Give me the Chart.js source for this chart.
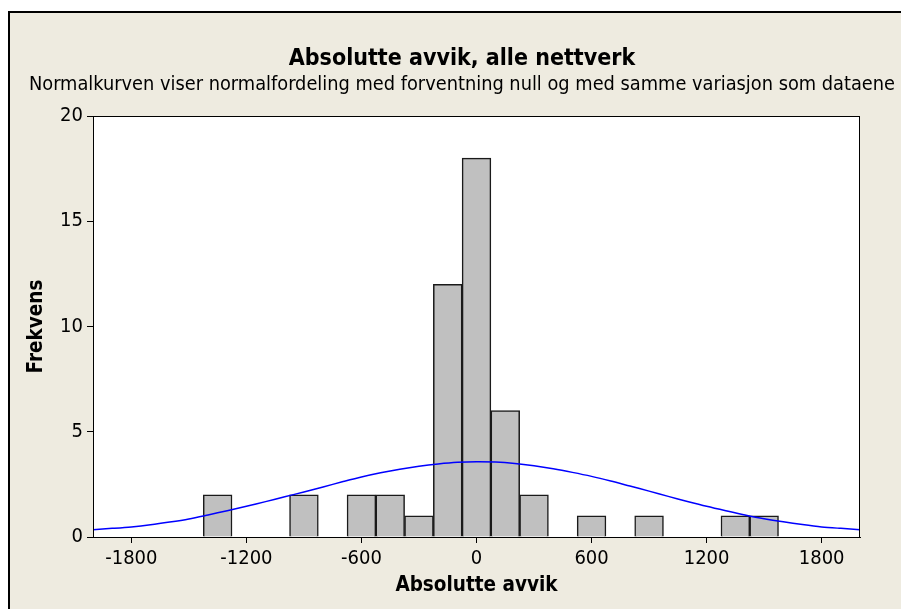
<!DOCTYPE html>
<html>
<head>
<meta charset="utf-8">
<script src="https://cdn.jsdelivr.net/npm/chart.js@4/dist/chart.umd.min.js"></script>
<style>
  html, body { margin: 0; padding: 0; background: #ffffff; }
  #wrap { width: 901px; height: 609px; }
</style>
</head>
<body>
<div id="wrap"><canvas id="histChart" width="901" height="609"></canvas></div>
<script>
// histogram bins (centre of each 150-wide class) and their counts
const binCenters = [-1350, -900, -600, -450, -300, -150, 0, 150, 300, 600, 900, 1350, 1500];
const counts = [2, 2, 2, 2, 1, 12, 18, 6, 2, 1, 1, 1, 1];

// normal curve, read at every 100 along the x axis
const curveX = [-2000, -1900, -1800, -1700, -1600, -1500, -1400, -1300, -1200, -1100, -1000,
                -900, -800, -700, -600, -500, -400, -300, -200, -100, 0,
                100, 200, 300, 400, 500, 600, 700, 800, 900, 1000,
                1100, 1200, 1300, 1400, 1500, 1600, 1700, 1800, 1900, 2000];
const curveY = [0.35, 0.41, 0.48, 0.58, 0.71, 0.86, 1.05, 1.25, 1.46, 1.68, 1.91,
                2.14, 2.38, 2.62, 2.85, 3.05, 3.22, 3.36, 3.47, 3.55, 3.58,
                3.56, 3.49, 3.38, 3.24, 3.07, 2.88, 2.66, 2.42, 2.18, 1.93,
                1.69, 1.46, 1.25, 1.05, 0.87, 0.72, 0.59, 0.48, 0.41, 0.35];

const xTicks = [-1800, -1200, -600, 0, 600, 1200, 1800];
const yTicks = [0, 5, 10, 15, 20];

const titleText = "Absolutte avvik, alle nettverk";
const subtitleText = "Normalkurven viser normalfordeling med forventning null og med samme variasjon som dataene";

const FONT = "'DejaVu Sans Condensed', 'DejaVu Sans', sans-serif";
Chart.defaults.font.family = FONT;
Chart.defaults.color = "#000";

// beige graph panel with a black frame, white data region, titles on top
const panel = {
    id: "panel",
    beforeDraw(chart) {
        const { ctx, chartArea: a } = chart;
        ctx.save();
        ctx.fillStyle = "#ffffff";
        ctx.fillRect(0, 0, chart.width, chart.height);
        ctx.fillStyle = "#eeebe0";
        ctx.fillRect(9, 12, chart.width, chart.height);
        ctx.strokeStyle = "#000";
        ctx.lineWidth = 2;
        ctx.beginPath();
        ctx.moveTo(9, chart.height + 5);
        ctx.lineTo(9, 12);
        ctx.lineTo(chart.width + 5, 12);
        ctx.stroke();
        ctx.fillStyle = "#ffffff";
        ctx.fillRect(a.left, a.top, a.right - a.left, a.bottom - a.top);
        ctx.restore();
    },
    afterDraw(chart) {
        const { ctx, chartArea: a } = chart;
        ctx.save();
        ctx.strokeStyle = "#000";
        ctx.lineWidth = 1;
        ctx.strokeRect(a.left + 0.5, a.top + 0.5, a.right - a.left - 1, a.bottom - a.top);
        ctx.fillStyle = "#000";
        ctx.textAlign = "center";
        ctx.textBaseline = "alphabetic";
        ctx.font = "bold 23px " + FONT;
        ctx.fillText(titleText, 462, 65);
        ctx.font = "19.8px " + FONT;
        ctx.fillText(subtitleText, 462, 90);
        ctx.restore();
    }
};

const ctx = document.getElementById("histChart").getContext("2d");

new Chart(ctx, {
    type: "bar",
    data: {
        datasets: [
            {
                type: "line",
                label: "Normalkurve",
                data: curveX.map((x, i) => ({ x: x, y: curveY[i] })),
                borderColor: "#0000ff",
                borderWidth: 1.5,
                pointRadius: 0,
                tension: 0.3,
                order: 0
            },
            {
                label: "Frekvens",
                data: binCenters.map((x, i) => ({ x: x, y: counts[i] })),
                backgroundColor: "#c0c0c0",
                borderColor: "#1a1a1a",
                borderWidth: 1.5,
                barPercentage: 1,
                categoryPercentage: 1,
                order: 1
            }
        ]
    },
    options: {
        responsive: false,
        animation: false,
        layout: { padding: { top: 116, right: 41, left: 0, bottom: 0 } },
        plugins: {
            legend: { display: false },
            tooltip: { enabled: false }
        },
        scales: {
            x: {
                type: "linear",
                min: -2000,
                max: 2000,
                offset: false,
                afterBuildTicks: s => { s.ticks = xTicks.map(v => ({ value: v })); },
                afterFit: s => { s.height = 72; },
                grid: { offset: false, drawOnChartArea: false, tickLength: 6, color: "#000", lineWidth: 1 },
                border: { color: "#000", width: 1 },
                ticks: {
                    color: "#000",
                    font: { size: 20 },
                    padding: 4,
                    maxRotation: 0,
                    autoSkip: false,
                    callback: v => String(v)
                },
                title: {
                    display: true,
                    text: "Absolutte avvik",
                    color: "#000",
                    font: { size: 20.5, weight: "bold" },
                    padding: { top: 0, bottom: 11.5 }
                }
            },
            y: {
                min: 0,
                max: 20,
                afterBuildTicks: s => { s.ticks = yTicks.map(v => ({ value: v })); },
                afterFit: s => { s.width = 93; },
                grid: { drawOnChartArea: false, tickLength: 6, color: "#000", lineWidth: 1 },
                border: { color: "#000", width: 1 },
                ticks: { color: "#000", font: { size: 20 }, padding: 4, callback: v => String(v) },
                title: {
                    display: true,
                    text: "Frekvens",
                    color: "#000",
                    font: { size: 20.5, weight: "bold" },
                    padding: { top: 24, bottom: 0 }
                }
            }
        }
    },
    plugins: [panel]
});
</script>
</body>
</html>
